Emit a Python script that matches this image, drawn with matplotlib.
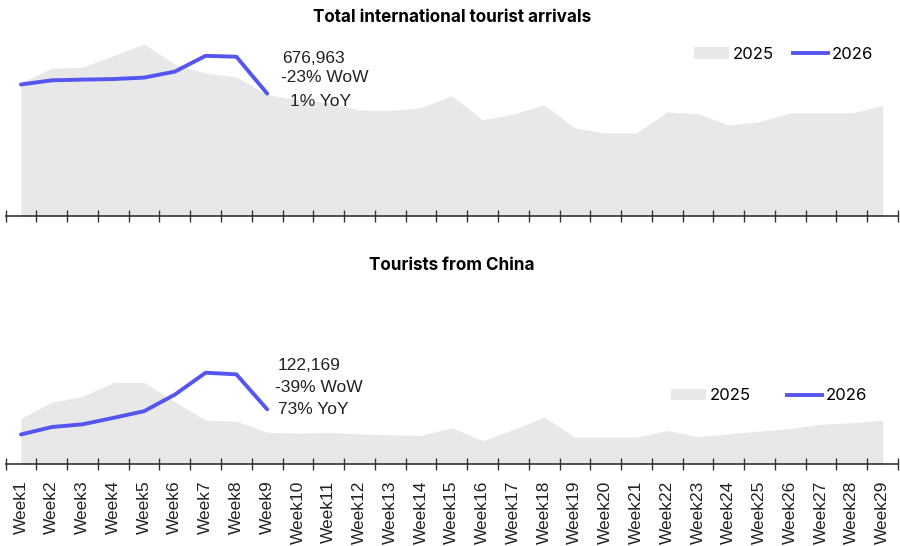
import matplotlib.pyplot as plt
from matplotlib.patches import Patch
from matplotlib.lines import Line2D

weeks = [f"Week{i}" for i in range(1, 30)]

# Total international tourist arrivals
total_2025 = [738000, 817000, 822000, 886000, 951000, 839000, 789000, 768000, 671000, 643000,
              627000, 587000, 584000, 599000, 666000, 532000, 565000, 615000, 487000, 460000,
              460000, 576000, 565000, 504000, 522000, 571000, 571000, 571000, 612000]
total_2026 = [727000, 750000, 754000, 757000, 765000, 798000, 885000, 880000, 676963]

# Tourists from China
china_2025 = [102000, 138000, 151000, 182000, 182000, 139000, 98000, 95500, 71000, 69000,
              70500, 67500, 65000, 64000, 81000, 52000, 77000, 105000, 60000, 60000,
              60000, 75000, 61000, 67500, 73500, 79000, 89000, 92000, 98000]
china_2026 = [66000, 82600, 88700, 103000, 118000, 155000, 204000, 200300, 122169]

AREA_COLOR = '#e8e8e8'
LINE_COLOR = '#5555f0'
FONT = ['Inter', 'DejaVu Sans']
ARIAL = ['Liberation Sans', 'DejaVu Sans']


def draw_panel(ax, y2025, y2026, ymax, title, title_pad, notes, legend_anchor, col_space):
    x25 = list(range(1, len(y2025) + 1))
    x26 = list(range(1, len(y2026) + 1))
    ax.fill_between(x25, 0, y2025, color=AREA_COLOR, linewidth=0)
    ax.plot(x26, y2026, color=LINE_COLOR, linewidth=2.8, solid_capstyle='round')

    ax.set_xlim(0.5, 29.5)
    ax.set_ylim(0, ymax)
    for s in ['top', 'right', 'left']:
        ax.spines[s].set_visible(False)
    ax.spines['bottom'].set_color('#333333')
    ax.spines['bottom'].set_linewidth(1.2)
    ax.set_yticks([])

    # ticks sit between the categories
    ax.set_xticks([i + 0.5 for i in range(0, 30)])
    ax.set_xticks(range(1, 30), minor=True)
    ax.tick_params(axis='x', which='major', direction='inout', length=9,
                   width=1, color='#333333', labelbottom=False)
    ax.tick_params(axis='x', which='minor', length=0)

    ax.set_title(title, fontsize=12.3, fontweight='bold', family=FONT, pad=title_pad)

    for (xt, yt, txt) in notes:
        ax.text(xt, yt, txt, fontsize=12.5, family=ARIAL, color='#222222',
                va='center', ha='left')

    handles = [Patch(facecolor=AREA_COLOR, edgecolor='none', label='2025'),
               Line2D([0], [0], color=LINE_COLOR, linewidth=2.8, label='2026')]
    ax.legend(handles=handles, ncol=2, frameon=False, loc='center left',
              bbox_to_anchor=legend_anchor, prop={'family': FONT, 'size': 12},
              handlelength=2.1, handleheight=0.7, handletextpad=0.2,
              columnspacing=col_space, borderaxespad=0, borderpad=0)


fig = plt.figure(figsize=(9, 5.46), dpi=100)

ax1 = fig.add_axes([0.0062, 0.6035, 0.9916, 0.3325])
ax2 = fig.add_axes([0.0062, 0.1502, 0.9916, 0.3278])

draw_panel(ax1, total_2025, total_2026, 1000000, 'Total international tourist arrivals', 9,
           [(9.49, 870000, '676,963'), (9.45, 765000, '-23% WoW'), (9.75, 636000, '1% YoY')],
           (0.7714, 0.895), 1.2)
draw_panel(ax2, china_2025, china_2026, 400000, 'Tourists from China', 10.5,
           [(9.35, 219000, '122,169'), (9.25, 171000, '-39% WoW'), (9.35, 122000, '73% YoY')],
           (0.7456, 0.38), 2.2)

ax2.tick_params(axis='x', which='minor', labelbottom=True, labelrotation=90,
                labelsize=12.5, labelcolor='#222222', pad=12)
ax2.set_xticklabels(weeks, minor=True, family=ARIAL)

fig.savefig('out.png', dpi=100)
